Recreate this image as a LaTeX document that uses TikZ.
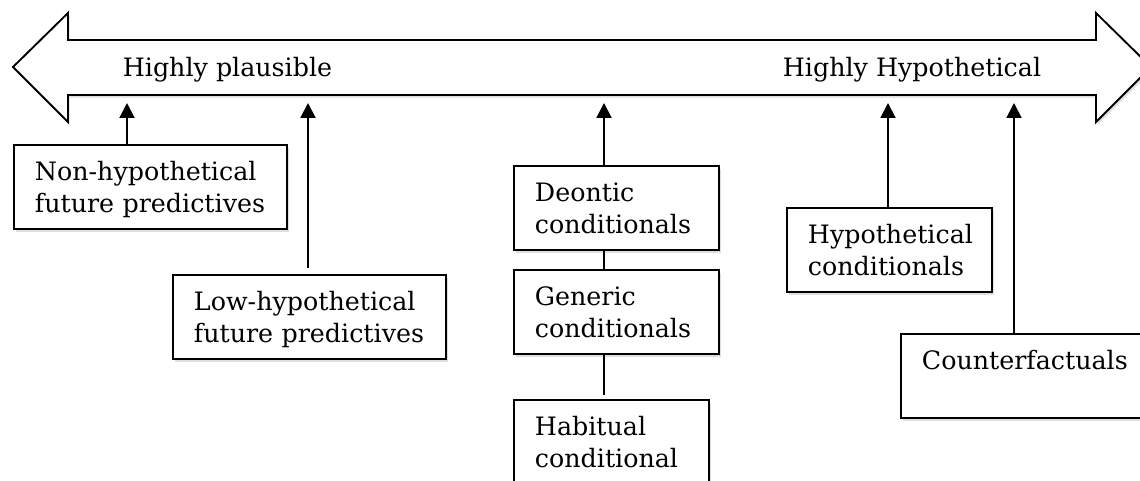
\documentclass[tikz,border=0pt]{standalone}
\usepackage{fontspec}
\setmainfont{DejaVu Serif}
\usetikzlibrary{arrows.meta,shadows}
\begin{document}
\begin{tikzpicture}[x=0.75pt,y=-0.75pt,
  shad/.style={drop shadow={opacity=0.25, shadow xshift=1.2pt, shadow yshift=-2pt}},
  lbl/.style={font=\fontsize{19}{24}\selectfont, inner sep=0pt},
  box/.style={draw, line width=1.4pt, fill=white, shad, anchor=north west,
    inner xsep=15.75pt, inner ysep=0pt, text height=27pt, text depth=36pt,
    align=left, font=\fontsize{19}{24}\selectfont,
    execute at begin node={\hyphenpenalty=10000\exhyphenpenalty=10000}},
  conn/.style={line width=1.45pt},
  up/.style={conn, -{Triangle[width=11.25pt,length=11.25pt]}},
]
\useasboundingbox (0,0) rectangle (1140,481);
\clip (0,0) rectangle (1140,481);

% big double arrow
\filldraw[fill=white, line width=1.4pt, line join=miter, shad]
  (13,67) -- (68,13) -- (68,40) -- (1096,40) -- (1096,13) -- (1151,67)
  -- (1096,122) -- (1096,95) -- (68,95) -- (68,122) -- cycle;
\node[lbl, anchor=base] (hp) at (227.5,77) {Highly plausible};
\node[lbl, anchor=base] (hh) at (912,77) {Highly Hypothetical};

% arrow tip points on the big arrow
\coordinate (a1) at (127,103);
\coordinate (a2) at (308,103);
\coordinate (a3) at (604,103);
\coordinate (a4) at (888,103);
\coordinate (a5) at (1014,103);

% boxes
\node[box, text width=173.25pt] (nonhyp) at (13,144) {Non-hypothetical\\future predictives};
\node[box, text width=173.25pt] (lowhyp) at (172,274) {Low-hypothetical\\future predictives};
\node[box, text width=122.25pt] (deon) at (513,165) {Deontic\\conditionals};
\node[box, text width=122.25pt] (gen) at (513,269) {Generic\\conditionals};
\node[box, text width=114.75pt] (hab) at (513,399) {Habitual\\conditional};
\node[box, text width=122.25pt] (hyp) at (786,207) {Hypothetical\\conditionals};
\node[box, text width=180pt] (cf) at (900,333) {Counterfactuals\\~};

% connectors
\draw[up] (nonhyp.north -| a1) -- (a1);
\draw[up, shorten <=4.5pt] (lowhyp.north -| a2) -- (a2);
\draw[up] (deon.north -| a3) -- (a3);
\draw[conn] (deon.south -| a3) -- (gen.north -| a3);
\draw[conn, shorten >=3pt] (gen.south -| a3) -- (hab.north -| a3);
\draw[up] (hyp.north -| a4) -- (a4);
\draw[up] (cf.north -| a5) -- (a5);
\end{tikzpicture}
\end{document}
